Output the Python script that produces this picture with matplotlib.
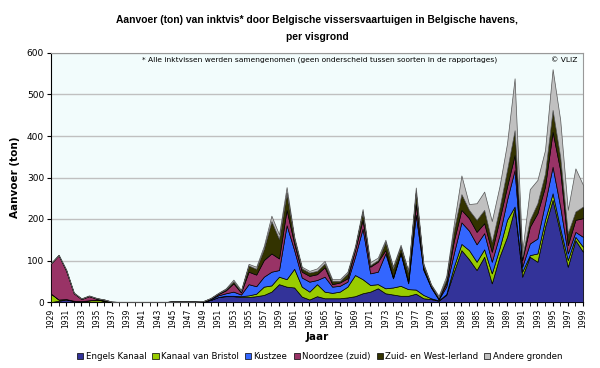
import matplotlib
matplotlib.use("Agg")
import matplotlib.pyplot as plt
import numpy as np
from matplotlib.patches import Patch

years = list(range(1929, 2000))

engels = [0, 3, 6, 2, 1, 1, 1, 1, 0, 0, 0, 0, 0, 0, 0, 0, 1, 1, 1, 1, 1,
          5, 12, 14, 14, 12, 12, 14, 17, 25, 43, 37, 35, 13, 6, 14, 9, 9, 9,
          11, 14, 21, 25, 33, 21, 18, 15, 15, 20, 9, 7, 3, 17, 73, 125, 103, 77, 109, 45, 109,
          157, 226, 61, 109, 97, 181, 246, 166, 85, 149, 121]
bristol = [20, 3, 1, 1, 1, 3, 5, 2, 0, 0, 0, 0, 0, 0, 0, 0, 0, 0, 0, 0, 0,
           0, 0, 1, 1, 2, 4, 6, 20, 15, 18, 18, 45, 24, 19, 29, 16, 13, 16,
           26, 51, 34, 16, 10, 12, 17, 24, 16, 10, 8, 2, 1, 2, 12, 15, 22, 20, 18, 24, 20,
           41, 4, 12, 4, 20, 17, 16, 12, 16, 8, 12]
kustzee = [0, 0, 0, 0, 0, 0, 0, 0, 0, 0, 0, 0, 0, 0, 0, 0, 0, 0, 0, 0, 0,
           2, 4, 6, 10, 4, 27, 18, 24, 33, 16, 130, 45, 22, 24, 10, 36, 15, 14,
           12, 44, 122, 28, 30, 84, 22, 78, 14, 180, 60, 26, 2, 18, 32, 52, 47, 42, 39, 28, 32,
           48, 88, 12, 28, 36, 40, 64, 52, 16, 12, 24]
noordzee = [73, 107, 68, 18, 5, 10, 2, 0, 0, 0, 0, 0, 0, 0, 0, 0, 0, 0, 0, 0, 0,
            1, 3, 7, 20, 5, 30, 28, 40, 44, 28, 37, 16, 14, 14, 14, 23, 6, 8,
            8, 16, 21, 16, 24, 8, 3, 3, 5, 26, 3, 2, 2, 8, 30, 30, 30, 30, 24, 24, 37,
            32, 36, 16, 40, 61, 40, 84, 88, 20, 29, 45]
ierland = [0, 0, 2, 1, 1, 1, 1, 3, 1, 0, 0, 0, 0, 0, 0, 0, 0, 0, 0, 0, 1,
           1, 2, 3, 5, 3, 15, 14, 27, 78, 47, 42, 12, 8, 8, 8, 9, 8, 4,
           12, 5, 20, 4, 4, 20, 21, 13, 22, 28, 9, 4, 3, 10, 26, 38, 20, 29, 32, 24, 28,
           40, 60, 8, 17, 24, 32, 53, 32, 29, 20, 28]
andere = [1, 1, 1, 1, 1, 1, 1, 0, 0, 0, 0, 0, 0, 0, 0, 0, 0, 0, 0, 0, 0,
          1, 1, 2, 4, 3, 4, 5, 7, 13, 11, 13, 5, 4, 4, 6, 6, 4, 4,
          4, 5, 6, 7, 6, 5, 5, 5, 3, 12, 4, 2, 4, 7, 15, 45, 14, 40, 44, 50, 52,
          64, 125, 12, 74, 56, 56, 98, 89, 56, 104, 52]

series_names = ["Engels Kanaal", "Kanaal van Bristol", "Kustzee",
                "Noordzee (zuid)", "Zuid- en West-Ierland", "Andere gronden"]
colors = ["#333399", "#99CC00", "#3366FF", "#993366", "#333300", "#C0C0C0"]

fig = plt.figure(figsize=(6.0, 3.68), dpi=100)
ax = fig.add_axes([51/600, 66/368, 532/600, 249/368])
ax.set_facecolor("#F2FCFC")

polys = ax.stackplot(years, engels, bristol, kustzee, noordzee, ierland, andere,
                     colors=colors, edgecolor="black", linewidth=0.5, zorder=3)
polys[-1].set_edgecolor("#555555")

ax.set_xlim(1929, 1999)
ax.set_ylim(0, 600)
ax.set_yticks(range(0, 601, 100))
ax.yaxis.grid(True, color="#C0C0C0", linewidth=1.0, zorder=0)
ax.set_axisbelow(True)
ax.set_xticks(years, minor=True)
ax.set_xticks(years[::2])
ax.set_xticklabels([str(y) for y in years[::2]], rotation=90, fontsize=5.5)
ax.tick_params(axis="y", labelsize=6.5, length=3, pad=2)
ax.tick_params(axis="x", which="both", length=3, pad=2, direction="out")
for s in ["top", "right"]:
    ax.spines[s].set_color("#999999")
for s in ["left", "bottom"]:
    ax.spines[s].set_color("black")

title_font = dict(family="Liberation Sans", fontsize=7.4, fontweight="bold",
                  ha="center", va="center")
fig.text(317/600, 1 - 20/368,
         "Aanvoer (ton) van inktvis* door Belgische vissersvaartuigen in Belgische havens,",
         **title_font)
fig.text(317/600, 1 - 37/368, "per visgrond", **title_font)

ax.set_ylabel("Aanvoer (ton)", fontsize=7.5, fontweight="bold", labelpad=5)
ax.set_xlabel("Jaar", fontsize=7.5, fontweight="bold", labelpad=3)

ax.text(0.505, 0.985, "* Alle inktvissen werden samengenomen (geen onderscheid tussen soorten in de rapportages)",
        transform=ax.transAxes, fontsize=5.4, ha="center", va="top", zorder=5)
ax.text(0.99, 0.985, "© VLIZ", transform=ax.transAxes, fontsize=5.4, ha="right", va="top", zorder=5)

handles = [Patch(facecolor=c, edgecolor="black", linewidth=0.5) for c in colors]
fig.legend(handles, series_names, loc="center", bbox_to_anchor=(0.533, 0.032), ncol=6,
           fontsize=6.2, frameon=False, handlelength=0.7, handleheight=0.7,
           handletextpad=0.3, columnspacing=0.7)

fig.savefig("out.png", dpi=100)
